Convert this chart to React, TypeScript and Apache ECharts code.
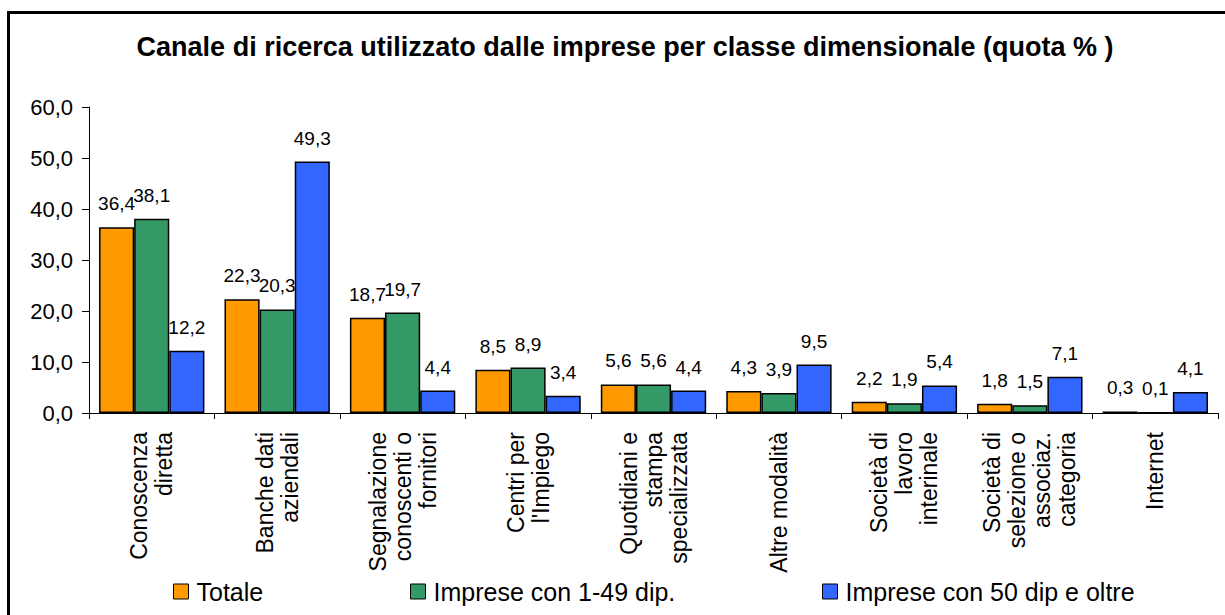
import React, { useEffect, useRef } from "react";
import * as echarts from "echarts";

const categories = [
  "Conoscenza\ndiretta",
  "Banche dati\naziendali",
  "Segnalazione\nconoscenti o\nfornitori",
  "Centri per\nl'Impiego",
  "Quotidiani e\nstampa\nspecializzata",
  "Altre modalità",
  "Società di\nlavoro\ninterinale",
  "Società di\nselezione o\nassociaz.\ncategoria",
  "Internet",
];
const seriesNames = ["Totale", "Imprese con 1-49 dip.", "Imprese con 50 dip e oltre"];
const totale = [36.4, 22.3, 18.7, 8.5, 5.6, 4.3, 2.2, 1.8, 0.3];
const piccole = [38.1, 20.3, 19.7, 8.9, 5.6, 3.9, 1.9, 1.5, 0.1];
const grandi = [12.2, 49.3, 4.4, 3.4, 4.4, 9.5, 5.4, 7.1, 4.1];
const colors = ["#FF9900", "#339966", "#3366FF"];
const legendLefts = [173, 410, 822];

const FONT = "'Liberation Sans', Arial, sans-serif";

function fmt(v: number) {
  return v.toFixed(1).replace(".", ",");
}

export default function App() {
  const ref = useRef<HTMLDivElement>(null);
  useEffect(() => {
    if (!ref.current) return;
    const chart = echarts.init(ref.current, null, { renderer: "svg" });
    const values = [totale, piccole, grandi];
    const option: any = {
      animation: false,
      backgroundColor: "#ffffff",
      title: {
        text: "Canale di ricerca utilizzato dalle imprese per classe dimensionale (quota % )",
        left: 625,
        top: 33,
        padding: 0,
        textAlign: "center",
        textStyle: { fontFamily: FONT, fontSize: 27, fontWeight: "bold", color: "#000" },
      },
      graphic: [
        {
          type: "rect",
          silent: true,
          z: -10,
          shape: { x: 8.5, y: 12.5, width: 1400, height: 800 },
          style: { fill: "none", stroke: "#000", lineWidth: 3 },
        },
      ],
      legend: legendLefts.map((left, i) => ({
        left,
        top: 579,
        padding: 0,
        data: [seriesNames[i]],
        icon: "rect",
        itemWidth: 15,
        itemHeight: 15,
        itemStyle: { borderColor: "#000", borderWidth: 1 },
        textStyle: { fontFamily: FONT, fontSize: 25, color: "#000", padding: [0, 0, 0, 3] },
      })),
      grid: {
        left: 89,
        right: 7,
        top: 107,
        bottom: 202,
        containLabel: false,
        outerBoundsMode: "none",
      },
      xAxis: {
        type: "category",
        data: categories.map((c) => ({ value: c, textStyle: { padding: [0, 1, 0, 0] } })),
        axisLine: { lineStyle: { color: "#000", width: 1 } },
        axisTick: { show: true, length: 6, lineStyle: { color: "#000" } },
        axisLabel: {
          interval: 0,
          rotate: 90,
          align: "center",
          verticalAlign: "middle",
          margin: 18,
          lineHeight: 25,
          fontFamily: FONT,
          fontSize: 23,
          color: "#000",
          hideOverlap: false,
        },
      },
      yAxis: {
        type: "value",
        min: 0,
        max: 60,
        interval: 10,
        axisLine: { show: true, lineStyle: { color: "#000", width: 1 } },
        axisTick: { show: true, length: 7, lineStyle: { color: "#000" } },
        splitLine: { show: false },
        axisLabel: {
          formatter: (v: number) => fmt(v),
          margin: 16,
          fontFamily: FONT,
          fontSize: 22,
          color: "#000",
        },
      },
      series: values.map((arr, i) => ({
        name: seriesNames[i],
        type: "bar",
        data: arr,
        barGap: "0%",
        barCategoryGap: "16%",
        itemStyle: { color: colors[i], borderColor: "#000", borderWidth: 1.5 },
        label: {
          show: true,
          position: "top",
          distance: 14,
          formatter: (p: any) => fmt(p.value),
          fontFamily: FONT,
          fontSize: 19,
          color: "#000",
        },
      })),
    };
    chart.setOption(option);
    return () => chart.dispose();
  }, []);
  return (
    <div
      ref={ref}
      style={{ position: "fixed", left: 0, top: 0, width: 1225, height: 615, background: "#fff" }}
    />
  );
}
